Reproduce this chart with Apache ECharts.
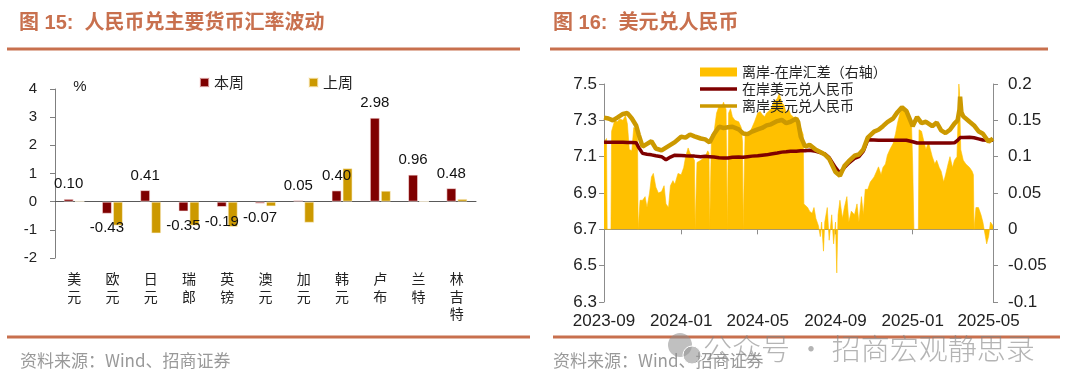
<!DOCTYPE html>
<html><head><meta charset="utf-8">
<script src="https://cdn.jsdelivr.net/npm/echarts@6/dist/echarts.min.js"></script>
<style>html,body{margin:0;padding:0;background:#fff}#c{width:1070px;height:389px}</style>
</head><body><div id="c"></div>
<script>
// ---------- Left chart data ----------
const categories = ['美元','欧元','日元','瑞郎','英镑','澳元','加元','韩元','卢布','兰特','林吉特'];
const thisWeek = [0.10,-0.43,0.41,-0.35,-0.19,-0.07,0.05,0.40,2.98,0.96,0.48];
const lastWeek = [0.02,-0.85,-1.13,-0.85,-0.90,-0.17,-0.75,1.19,0.39,0.01,0.10];

// ---------- Right chart data ----------
const xTickLabels = ['2023-09','2024-01','2024-05','2024-09','2025-01','2025-05'];
const lineDates = [
'2023-09-01','2023-09-08','2023-09-15','2023-09-22','2023-10-01','2023-10-08','2023-10-15','2023-10-22','2023-10-26',
'2023-11-01','2023-11-08','2023-11-15','2023-11-22','2023-12-01','2023-12-08','2023-12-15','2023-12-22',
'2024-01-01','2024-01-08','2024-01-15','2024-01-22','2024-02-01','2024-02-08','2024-02-15','2024-02-22',
'2024-03-01','2024-03-08','2024-03-15','2024-03-22','2024-04-01','2024-04-08','2024-04-15','2024-04-22',
'2024-05-01','2024-05-08','2024-05-15','2024-05-22','2024-06-01','2024-06-08','2024-06-15','2024-06-22',
'2024-07-01','2024-07-04','2024-07-08','2024-07-15','2024-07-22','2024-08-01','2024-08-08','2024-08-15','2024-08-22',
'2024-09-01','2024-09-08','2024-09-15','2024-09-22','2024-10-01','2024-10-08','2024-10-15','2024-10-22',
'2024-11-01','2024-11-08','2024-11-15','2024-11-22','2024-12-01','2024-12-08','2024-12-15','2024-12-22',
'2025-01-01','2025-01-08','2025-01-15','2025-01-22','2025-02-01','2025-02-08','2025-02-15','2025-02-22',
'2025-03-01','2025-03-08','2025-03-13','2025-03-16','2025-03-17','2025-03-19','2025-03-22',
'2025-04-01','2025-04-08','2025-04-15','2025-04-22','2025-05-01','2025-05-08'];
const onshore = [
7.179,7.180,7.180,7.180,7.179,7.178,7.178,7.176,7.150,
7.118,7.113,7.110,7.105,7.100,7.083,7.098,7.108,
7.107,7.105,7.104,7.103,7.100,7.102,7.100,7.098,
7.094,7.093,7.093,7.097,7.098,7.097,7.100,7.103,
7.105,7.108,7.110,7.115,7.120,7.125,7.127,7.130,
7.130,7.131,7.132,7.133,7.135,7.130,7.122,7.115,7.095,
7.040,7.010,7.040,7.065,7.090,7.100,7.130,7.193,
7.192,7.190,7.190,7.190,7.190,7.190,7.190,7.190,
7.182,7.175,7.175,7.175,7.175,7.175,7.175,7.175,
7.175,7.176,7.190,7.200,7.205,7.206,7.206,
7.207,7.204,7.198,7.192,7.190,7.190];
const offshore = [
7.315,7.310,7.300,7.315,7.335,7.340,7.310,7.270,7.220,
7.155,7.170,7.185,7.145,7.135,7.150,7.165,7.180,
7.210,7.205,7.222,7.212,7.200,7.195,7.178,7.225,
7.265,7.258,7.262,7.265,7.250,7.228,7.224,7.238,
7.250,7.258,7.272,7.278,7.296,7.302,7.285,7.292,
7.310,7.290,7.210,7.155,7.165,7.138,7.126,7.112,7.088,
7.015,6.995,7.048,7.075,7.105,7.112,7.140,7.205,
7.238,7.248,7.268,7.290,7.310,7.345,7.372,7.352,
7.268,7.318,7.285,7.292,7.268,7.288,7.245,7.230,
7.248,7.282,7.300,7.360,7.430,7.345,7.322,
7.292,7.272,7.240,7.226,7.182,7.200];
const spreadDates = [
'2023-09-01','2023-09-05','2023-09-06','2023-09-12','2023-09-13','2023-09-15','2023-09-18','2023-09-22','2023-09-26',
'2023-10-01','2023-10-05','2023-10-08','2023-10-11','2023-10-15','2023-10-18','2023-10-22','2023-10-24','2023-10-25','2023-10-27','2023-10-28',
'2023-11-01','2023-11-05','2023-11-08','2023-11-12','2023-11-15','2023-11-18','2023-11-22','2023-11-26',
'2023-12-01','2023-12-05','2023-12-08','2023-12-12','2023-12-15','2023-12-19','2023-12-22','2023-12-27',
'2024-01-01','2024-01-05','2024-01-08','2024-01-12','2024-01-15','2024-01-19','2024-01-22','2024-01-23','2024-01-25','2024-01-26',
'2024-02-01','2024-02-08','2024-02-12','2024-02-14','2024-02-15','2024-02-17','2024-02-18','2024-02-22','2024-02-26',
'2024-03-01','2024-03-05','2024-03-08','2024-03-12','2024-03-13','2024-03-14','2024-03-15','2024-03-16','2024-03-19','2024-03-22','2024-03-26',
'2024-04-01','2024-04-05','2024-04-07','2024-04-08','2024-04-10','2024-04-11','2024-04-15','2024-04-19','2024-04-22','2024-04-26',
'2024-05-01','2024-05-05','2024-05-08','2024-05-12','2024-05-15','2024-05-19','2024-05-22','2024-05-26',
'2024-06-01','2024-06-04','2024-06-08','2024-06-12','2024-06-15','2024-06-19','2024-06-22','2024-06-26',
'2024-07-01','2024-07-04','2024-07-08','2024-07-12','2024-07-13','2024-07-15','2024-07-19','2024-07-22','2024-07-26','2024-07-29',
'2024-08-01','2024-08-05','2024-08-08','2024-08-10','2024-08-13','2024-08-15','2024-08-19','2024-08-22','2024-08-26','2024-08-29',
'2024-09-01','2024-09-03','2024-09-05','2024-09-08','2024-09-12','2024-09-15','2024-09-19','2024-09-22','2024-09-26',
'2024-10-01','2024-10-05','2024-10-08','2024-10-12','2024-10-15','2024-10-18','2024-10-22','2024-10-26',
'2024-11-01','2024-11-05','2024-11-08','2024-11-12','2024-11-15','2024-11-19','2024-11-22','2024-11-26',
'2024-12-01','2024-12-05','2024-12-08','2024-12-12','2024-12-15','2024-12-19','2024-12-22','2024-12-26','2024-12-30',
'2025-01-01','2025-01-03','2025-01-10','2025-01-11','2025-01-15','2025-01-19','2025-01-22','2025-01-26',
'2025-02-01','2025-02-05','2025-02-08','2025-02-12','2025-02-15','2025-02-19','2025-02-22','2025-02-26',
'2025-03-01','2025-03-05','2025-03-08','2025-03-12','2025-03-14','2025-03-15','2025-03-16','2025-03-18','2025-03-22','2025-03-26',
'2025-04-01','2025-04-05','2025-04-07','2025-04-08','2025-04-10','2025-04-11','2025-04-15','2025-04-19','2025-04-22','2025-04-25','2025-04-28',
'2025-05-01','2025-05-04','2025-05-08'];
const spread = [
0.120,0.125,0,0,0.135,0.137,0.150,0.148,0.152,
0.150,0.157,0.145,0.110,0.108,0.140,0.138,0.130,0,0,0.040,
0.040,0.045,0.030,0.050,0.072,0.077,0.058,0.050,
0.052,0.060,0.035,0.030,0.060,0.067,0.062,0.077,
0.075,0.085,0.100,0.112,0.105,0.100,0.095,0,0,0.092,
0.095,0.100,0.108,0.105,0,0,0.130,0.134,0.160,
0.170,0.168,0.175,0.165,0.165,0,0,0.160,0.166,0.155,0.150,
0.148,0.140,0.120,0,0,0.130,0.128,0.135,0.140,0.148,
0.160,0.162,0.158,0.155,0.160,0.163,0.166,0.175,
0.180,0.187,0.175,0.170,0.160,0.165,0.158,0.155,
0.148,0.140,0.140,0.130,0.035,0.035,0.030,0.025,0.022,0.030,
0.015,0.005,-0.010,0.010,-0.030,0.010,0.030,-0.015,0.020,-0.020,
0.010,-0.060,0.020,0.040,0.015,0.030,0.045,0.010,0.025,
0.020,0.035,0.010,0.045,0.020,0.055,0.055,0.065,
0.072,0.080,0.086,0.075,0.085,0.090,0.102,0.110,
0.118,0.132,0.146,0.160,0.165,0.168,0.160,0.158,0.150,
0.090,0,0,0.137,0.135,0.120,0.110,0.120,
0.100,0.090,0.095,0.085,0.080,0.065,0.075,0.090,
0.100,0.085,0.095,0.100,0.160,0.200,0.190,0.110,0.095,0.090,
0.085,0.080,0.075,0,0,0.030,0.030,0.020,0.010,-0.005,-0.020,
-0.010,0.010,0.005];

// daily calendar categories for the time axis of the right chart
const dayCats = [];
for (let t = Date.UTC(2023, 8, 1); t <= Date.UTC(2025, 4, 8); t += 86400000) {
  dayCats.push(new Date(t).toISOString().slice(0, 10));
}
const isTick = (i, v) => v.slice(8) === '01' && xTickLabels.indexOf(v.slice(0, 7)) >= 0;

const NUM = '"Liberation Sans", Arial, sans-serif';
const CJK = '"Noto Sans CJK SC", sans-serif';
const ACC = '#C8704E';
const LINE_ICON = 'path://M0,0 H37 V3.5 H0 Z';

const chart = echarts.init(document.getElementById('c'), null, {renderer: 'canvas'});
chart.setOption({
  animation: false,
  backgroundColor: '#fff',
  grid: [
    {left: 55, top: 89, width: 421, height: 169},
    {left: 604, top: 84, width: 389, height: 218}
  ],
  legend: [
    {data: ['本周', '上周'], left: 199, top: 75, padding: 0, itemWidth: 9, itemHeight: 9, itemGap: 64, icon: 'rect',
     textStyle: {fontSize: 15, fontFamily: CJK, color: '#222'}},
    {data: [{name: '离岸-在岸汇差（右轴）', icon: 'rect'},
            {name: '在岸美元兑人民币', icon: LINE_ICON},
            {name: '离岸美元兑人民币', icon: LINE_ICON}],
     orient: 'vertical', left: 700, top: 64, padding: 0, itemWidth: 37, itemHeight: 9, itemGap: 1,
     textStyle: {fontSize: 14, lineHeight: 16, fontFamily: CJK, color: '#222'}}
  ],
  xAxis: [
    {type: 'category', gridIndex: 0, data: categories,
     axisLine: {lineStyle: {color: '#595959', width: 1}},
     axisTick: {length: 4, lineStyle: {color: '#595959'}},
     axisLabel: {interval: 0, margin: 12, fontSize: 14, lineHeight: 17.5, fontFamily: CJK, color: '#222',
                 formatter: v => v.split('').join('\n')}},
    {type: 'category', gridIndex: 1, data: dayCats, boundaryGap: false,
     axisLine: {lineStyle: {color: '#8c8c8c', width: 1}},
     axisTick: {interval: isTick, length: 5, lineStyle: {color: '#8c8c8c'}},
     axisLabel: {interval: isTick, margin: 11, fontSize: 17, fontFamily: NUM, color: '#222',
                 formatter: v => v.slice(0, 7)}}
  ],
  yAxis: [
    {type: 'value', gridIndex: 0, min: -2, max: 4, interval: 1, splitLine: {show: false},
     axisLine: {show: true, lineStyle: {color: '#7f7f7f'}},
     axisTick: {show: true, length: 5, lineStyle: {color: '#7f7f7f'}},
     axisLabel: {margin: 18, fontSize: 15, fontFamily: NUM, color: '#222'}},
    {type: 'value', gridIndex: 1, min: 6.3, max: 7.5, interval: 0.2, position: 'left', splitLine: {show: false},
     axisLine: {show: true, lineStyle: {color: '#8c8c8c'}},
     axisTick: {show: true, length: 5, lineStyle: {color: '#8c8c8c'}},
     axisLabel: {margin: 7, fontSize: 17, fontFamily: NUM, color: '#222', formatter: v => v.toFixed(1)}},
    {type: 'value', gridIndex: 1, min: -0.1, max: 0.2, interval: 0.05, position: 'right', splitLine: {show: false},
     axisLine: {show: true, lineStyle: {color: '#8c8c8c'}},
     axisTick: {show: true, length: 5, lineStyle: {color: '#8c8c8c'}},
     axisLabel: {margin: 15, fontSize: 17, fontFamily: NUM, color: '#222',
                 formatter: v => String(parseFloat(v.toFixed(2)))}}
  ],
  series: [
    {name: '本周', type: 'bar', xAxisIndex: 0, yAxisIndex: 0, barWidth: 10, barGap: '10%',
     itemStyle: {color: '#7F0000', borderColor: 'rgba(255,235,235,0.6)', borderWidth: 1},
     label: {show: true, fontSize: 15, fontFamily: NUM, color: '#111', distance: 7,
             formatter: p => p.value.toFixed(2)},
     data: thisWeek.map(v => ({value: v, label: {position: v >= 0 ? 'top' : 'bottom'}}))},
    {name: '上周', type: 'bar', xAxisIndex: 0, yAxisIndex: 0, barWidth: 10,
     itemStyle: {color: '#CC9900', borderColor: 'rgba(255,245,220,0.6)', borderWidth: 1},
     data: lastWeek},
    {name: '离岸-在岸汇差（右轴）', type: 'line', xAxisIndex: 1, yAxisIndex: 2, symbol: 'none',
     data: spreadDates.map((d, i) => [d, spread[i]]),
     itemStyle: {color: '#FFC000'}, lineStyle: {width: 0.6, color: '#FFC000'},
     areaStyle: {color: '#FFC000', opacity: 1}},
    {name: '在岸美元兑人民币', type: 'line', xAxisIndex: 1, yAxisIndex: 1, symbol: 'none',
     data: lineDates.map((d, i) => [d, onshore[i]]),
     itemStyle: {color: '#7F0000'}, lineStyle: {color: '#7F0000', width: 3.5}},
    {name: '离岸美元兑人民币', type: 'line', xAxisIndex: 1, yAxisIndex: 1, symbol: 'none',
     data: lineDates.map((d, i) => [d, offshore[i]]),
     itemStyle: {color: '#CC9900'}, lineStyle: {color: '#CC9900', width: 4.5}}
  ],
  graphic: [
    {type: 'text', x: 19, y: 23, style: {text: '图 15:  人民币兑主要货币汇率波动', fontSize: 20, fontWeight: 'bold',
      fontFamily: NUM + ',' + CJK, fill: ACC, verticalAlign: 'middle'}},
    {type: 'text', x: 553, y: 23, style: {text: '图 16:  美元兑人民币', fontSize: 20, fontWeight: 'bold',
      fontFamily: NUM + ',' + CJK, fill: ACC, verticalAlign: 'middle'}},
    {type: 'line', shape: {x1: 7, y1: 49, x2: 520, y2: 49}, style: {stroke: ACC, lineWidth: 3}},
    {type: 'line', shape: {x1: 550, y1: 49, x2: 1048, y2: 49}, style: {stroke: ACC, lineWidth: 3}},
    {type: 'line', shape: {x1: 7, y1: 337, x2: 530, y2: 337}, style: {stroke: ACC, lineWidth: 3}},
    {type: 'line', shape: {x1: 553, y1: 337, x2: 1060, y2: 337}, style: {stroke: ACC, lineWidth: 3}},
    {type: 'text', x: 80, y: 87, style: {text: '%', fontSize: 15, fontFamily: NUM, fill: '#222', align: 'center', verticalAlign: 'middle'}},
    {type: 'text', x: 20, y: 361, style: {text: '资料来源：Wind、招商证券', fontSize: 17, fontFamily: CJK, fill: '#999', verticalAlign: 'middle'}},
    {type: 'text', x: 553, y: 361, style: {text: '资料来源：Wind、招商证券', fontSize: 17, fontFamily: CJK, fill: '#999', verticalAlign: 'middle'}},
    {type: 'circle', z: 100, shape: {cx: 680, cy: 345, r: 12}, style: {fill: 'rgba(140,140,140,0.55)'}},
    {type: 'circle', z: 101, shape: {cx: 692, cy: 355, r: 9}, style: {fill: 'rgba(150,150,150,0.6)', stroke: '#fff', lineWidth: 1}},
    {type: 'text', z: 100, x: 703, y: 349, style: {text: '公众号 · 招商宏观静思录', fontSize: 29, fontWeight: 300,
      fontFamily: CJK, fill: 'rgba(130,130,130,0.6)', verticalAlign: 'middle'}}
  ]
});
</script>
</body></html>
